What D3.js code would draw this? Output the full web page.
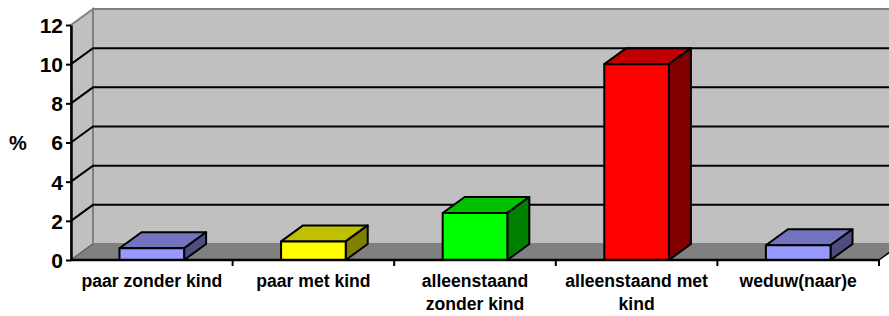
<!DOCTYPE html>
<html>
<head>
<meta charset="utf-8">
<script src="https://cdn.jsdelivr.net/npm/d3@7/dist/d3.min.js"></script>
<style>
  html, body { margin: 0; padding: 0; background: #fff; }
  svg { display: block; font-family: "Liberation Sans", Arial, sans-serif; }
</style>
</head>
<body>
<div id="chart"></div>
<script>
const categories = [
  ["paar zonder kind"],
  ["paar met kind"],
  ["alleenstaand", "zonder kind"],
  ["alleenstaand met", "kind"],
  ["weduw(naar)e"]
];
const values = [0.6, 0.95, 2.4, 10.0, 0.75];
const yTicks = [0, 2, 4, 6, 8, 10, 12];
const faceColors = ["#9999FF", "#FFFF00", "#00FF00", "#FF0000", "#9999FF"];
const topColors  = ["#7373BF", "#C0C000", "#00C000", "#C00000", "#7373BF"];
const sideColors = ["#4D4D80", "#808000", "#008000", "#800000", "#4D4D80"];
const yLabel = "%";

const W = 889, H = 316;
const X0 = 71, X1 = 879;      // front plane left/right
const DX = 22, DY = -16;      // depth offset

const svg = d3.select("#chart").append("svg")
  .attr("width", W).attr("height", H);

const x = d3.scaleBand()
  .domain(d3.range(categories.length))
  .range([X0, X1])
  .paddingInner(0.6)
  .paddingOuter(0.3);

const y = d3.scaleLinear().domain([0, 12]).range([260, 25]);

const pts = a => a.map(p => p.join(",")).join(" ");

// back wall
svg.append("rect")
  .attr("x", X0 + DX).attr("y", y(12) + DY)
  .attr("width", X1 - X0 + 40).attr("height", y(0) - y(12))
  .attr("fill", "#C0C0C0").attr("stroke", "#808080").attr("stroke-width", 2);

// left wall
svg.append("polygon")
  .attr("points", pts([[X0, y(12)], [X0 + DX, y(12) + DY], [X0 + DX, y(0) + DY], [X0, y(0)]]))
  .attr("fill", "#C0C0C0").attr("stroke", "#808080").attr("stroke-width", 2);

// gridlines on walls
const grid = yTicks.filter(v => v > 0 && v < 12);
svg.append("g").selectAll("path").data(grid).join("path")
  .attr("d", v => `M${X0},${y(v)}L${X0 + DX},${y(v) + DY}L${W + 5},${y(v) + DY}`)
  .attr("fill", "none").attr("stroke", "#000").attr("stroke-width", 2);

// floor
svg.append("polygon")
  .attr("points", pts([[X0, y(0)], [X1, y(0)], [X1 + DX, y(0) + DY], [X0 + DX, y(0) + DY]]))
  .attr("fill", "#808080");
svg.append("line")
  .attr("x1", X0).attr("y1", y(0)).attr("x2", X0 + DX).attr("y2", y(0) + DY)
  .attr("stroke", "#555").attr("stroke-width", 1);
svg.append("line")
  .attr("x1", X1).attr("y1", y(0)).attr("x2", X1 + DX).attr("y2", y(0) + DY)
  .attr("stroke", "#000").attr("stroke-width", 1.5);

// bars
const bars = svg.append("g").selectAll("g").data(values).join("g");
const bw = x.bandwidth();
bars.append("polygon") // top
  .attr("points", (d, i) => {
    const l = x(i), t = y(d);
    return pts([[l, t], [l + DX, t + DY], [l + bw + DX, t + DY], [l + bw, t]]);
  })
  .attr("fill", (d, i) => topColors[i]);
bars.append("polygon") // side
  .attr("points", (d, i) => {
    const r = x(i) + bw, t = y(d), b = y(0);
    return pts([[r, t], [r + DX, t + DY], [r + DX, b + DY], [r, b]]);
  })
  .attr("fill", (d, i) => sideColors[i]);
bars.append("rect") // front
  .attr("x", (d, i) => x(i)).attr("y", d => y(d))
  .attr("width", bw).attr("height", d => y(0) - y(d))
  .attr("fill", (d, i) => faceColors[i]);
bars.selectAll("*")
  .attr("stroke", "#000").attr("stroke-width", 2).attr("stroke-linejoin", "round");

// y axis
svg.append("g")
  .attr("transform", `translate(${X0},0)`)
  .call(d3.axisLeft(y).tickValues(yTicks).tickSize(5).tickSizeOuter(0).tickPadding(3))
  .call(g => g.select(".domain").attr("stroke-width", 2.5))
  .call(g => g.selectAll(".tick line").attr("stroke-width", 2))
  .call(g => g.selectAll("text")
    .attr("font-size", 21).attr("font-weight", "bold").attr("fill", "#000")
    .attr("dy", "0.35em")
    .attr("font-family", "Liberation Sans, Arial, sans-serif"));

// x axis
svg.append("line")
  .attr("x1", X0).attr("x2", X1).attr("y1", y(0)).attr("y2", y(0))
  .attr("stroke", "#000").attr("stroke-width", 2.5);
const step = x.step();
const tickXs = d3.range(categories.length + 1).map(i => X0 + i * step);
svg.append("g").selectAll("line").data(tickXs.slice(1)).join("line")
  .attr("x1", d => d).attr("x2", d => d)
  .attr("y1", y(0)).attr("y2", y(0) + 6)
  .attr("stroke", "#000").attr("stroke-width", 2);

svg.append("g").selectAll("text").data(categories).join("text")
  .attr("x", (d, i) => x(i) + bw / 2)
  .attr("y", 287)
  .attr("text-anchor", "middle")
  .attr("font-size", 17.6).attr("font-weight", "bold")
  .selectAll("tspan").data(d => d).join("tspan")
  .attr("x", function () { return this.parentNode.getAttribute("x"); })
  .attr("dy", (d, i) => i ? 23 : 0)
  .text(d => d);

svg.append("text")
  .attr("x", 18).attr("y", 150)
  .attr("text-anchor", "middle")
  .attr("font-size", 20).attr("font-weight", "bold")
  .text(yLabel);
</script>
</body>
</html>
